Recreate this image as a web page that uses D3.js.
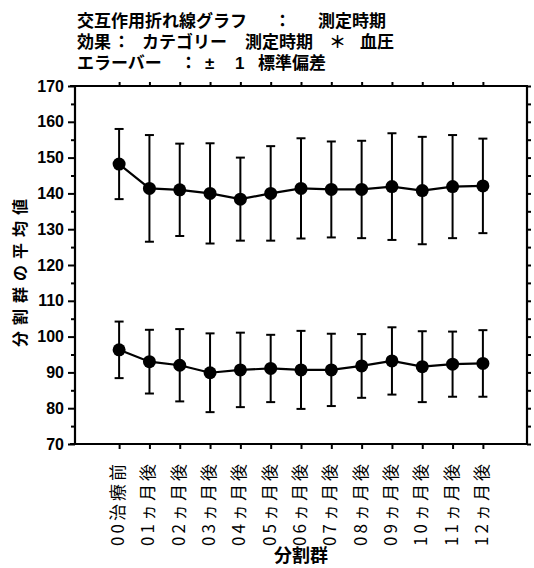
<!DOCTYPE html>
<html>
<head>
<meta charset="utf-8">
<script src="https://cdn.jsdelivr.net/npm/d3@7"></script>
<style>
  html, body { margin: 0; padding: 0; background: #fff; }
  svg { display: block; }
</style>
</head>
<body>
<svg id="chart" width="534" height="568"></svg>
<script>
// Measurement periods (x categories)
const categories = ["00治療前", "01ヵ月後", "02ヵ月後", "03ヵ月後", "04ヵ月後", "05ヵ月後",
  "06ヵ月後", "07ヵ月後", "08ヵ月後", "09ヵ月後", "10ヵ月後", "11ヵ月後", "12ヵ月後"];

// Systolic series: group means and standard deviations
const upperMean = [148.2, 141.4, 141.0, 140.0, 138.4, 140.0, 141.4, 141.1, 141.1, 141.9, 140.8, 141.9, 142.1];
const upperSD   = [9.8, 14.9, 12.9, 14.0, 11.6, 13.2, 14.0, 13.4, 13.6, 14.9, 15.0, 14.4, 13.2];

// Diastolic series: group means and standard deviations
const lowerMean = [96.3, 93.0, 92.0, 89.9, 90.7, 91.1, 90.7, 90.7, 91.8, 93.2, 91.6, 92.3, 92.5];
const lowerSD   = [7.9, 8.9, 10.1, 11.0, 10.4, 9.4, 10.9, 10.1, 8.9, 9.4, 9.9, 9.1, 9.3];

// Axis ticks
const yMajorTicks = [70, 80, 90, 100, 110, 120, 130, 140, 150, 160, 170];
const yMinorTicks = [75, 85, 95, 105, 115, 125, 135, 145, 155, 165];

// Title lines, each split into words with their left edge
const titleLines = [
  [["交互作用折れ線グラフ", 77], ["：", 274], ["測定時期", 318]],
  [["効果", 77], ["：", 113], ["カテゴリー", 142], ["測定時期", 245], ["＊", 329], ["血圧", 360]],
  [["エラーバー", 77], ["：", 180], ["±", 205], ["1", 235], ["標準偏差", 258]]
];

const svg = d3.select("#chart");
const plotL = 75, plotR = 527, plotT = 86, plotB = 444;

const x = d3.scalePoint().domain(categories).range([plotL, plotR]).padding(1.455);
const y = d3.scaleLinear().domain([70, 170]).range([plotB, plotT]);

const numFont = "'Liberation Sans', Arial, sans-serif";
const jpFont = "'Liberation Sans', 'Noto Sans CJK JP', sans-serif";

// Title block
titleLines.forEach((parts, i) => {
  svg.append("g").selectAll("text").data(parts).join("text")
    .attr("x", d => d[1])
    .attr("y", 27 + i * 21)
    .attr("font-family", jpFont)
    .attr("font-weight", "bold")
    .attr("font-size", 17)
    .attr("fill", "#000")
    .text(d => d[0]);
});

// Left axis: labelled major ticks, short minor ticks
const gLeft = svg.append("g").attr("transform", `translate(${plotL},0)`);
gLeft.call(d3.axisLeft(y).tickValues(yMajorTicks).tickSize(7).tickPadding(4).tickFormat(d3.format("d")));
gLeft.append("g").call(d3.axisLeft(y).tickValues(yMinorTicks).tickSize(4).tickFormat(""));
gLeft.selectAll("text")
  .attr("font-family", numFont)
  .attr("font-weight", "bold")
  .attr("font-size", 16)
  .attr("fill", "#000");

// Right axis: short outward ticks every 5
const gRight = svg.append("g").attr("transform", `translate(${plotR},0)`);
gRight.call(d3.axisRight(y).tickValues(yMajorTicks.concat(yMinorTicks)).tickSize(4).tickFormat(""));

// Top axis: short outward ticks at each category
const gTop = svg.append("g").attr("transform", `translate(0,${plotT})`);
gTop.call(d3.axisTop(x).tickSize(4).tickFormat(""));

// Bottom axis with vertical category labels
const gBottom = svg.append("g").attr("transform", `translate(0,${plotB})`);
gBottom.call(d3.axisBottom(x).tickSize(5));
gBottom.selectAll(".tick text")
  .attr("x", null).attr("y", null).attr("dy", null)
  .attr("transform", "translate(-3,17) rotate(-90)")
  .attr("text-anchor", "end")
  .attr("dominant-baseline", "central")
  .attr("font-family", "'Noto Sans CJK JP', sans-serif")
  .attr("font-size", 17)
  .attr("letter-spacing", 3)
  .attr("fill", "#000");

[gLeft, gRight, gTop, gBottom].forEach(g => {
  g.selectAll(".domain").remove();
  g.selectAll("line").attr("stroke", "#000").attr("stroke-width", 2);
});

// Frame
svg.append("g").attr("stroke", "#000").attr("stroke-width", 2.2).attr("fill", "none")
  .call(g => {
    g.append("line").attr("x1", plotL - 5).attr("x2", plotR + 1).attr("y1", plotT).attr("y2", plotT);
    g.append("line").attr("x1", plotL - 5).attr("x2", plotR + 1).attr("y1", plotB).attr("y2", plotB);
    g.append("line").attr("x1", plotL).attr("x2", plotL).attr("y1", plotT).attr("y2", plotB);
    g.append("line").attr("x1", plotR).attr("x2", plotR).attr("y1", plotT).attr("y2", plotB);
  });

// Axis titles
svg.append("text")
  .attr("transform", `translate(19,270) rotate(-90)`)
  .attr("text-anchor", "middle")
  .attr("dominant-baseline", "central")
  .attr("font-family", "'Noto Sans CJK JP', sans-serif")
  .attr("font-weight", "bold")
  .attr("font-size", 16)
  .attr("letter-spacing", 6)
  .attr("fill", "#000")
  .text("分割群の平均値");

svg.append("text")
  .attr("x", (plotL + plotR) / 2)
  .attr("y", 562)
  .attr("text-anchor", "middle")
  .attr("font-family", "'Noto Sans CJK JP', sans-serif")
  .attr("font-weight", "bold")
  .attr("font-size", 18)
  .attr("fill", "#000")
  .text("分割群");

// Series: line, ±1 SD error bars, filled markers
const series = [
  { mean: upperMean, sd: upperSD },
  { mean: lowerMean, sd: lowerSD }
];

const line = d3.line().x((d, i) => x(categories[i])).y(d => y(d));
const capHalf = 4.5;

series.forEach(s => {
  const g = svg.append("g");
  const rows = categories.map((c, i) => ({ c, m: s.mean[i], sd: s.sd[i] }));

  const eb = g.selectAll(".eb").data(rows).join("g").attr("stroke", "#000").attr("stroke-width", 2);
  eb.append("line")
    .attr("x1", d => x(d.c)).attr("x2", d => x(d.c))
    .attr("y1", d => y(d.m + d.sd)).attr("y2", d => y(d.m - d.sd));
  eb.append("line")
    .attr("x1", d => x(d.c) - capHalf).attr("x2", d => x(d.c) + capHalf)
    .attr("y1", d => y(d.m + d.sd)).attr("y2", d => y(d.m + d.sd));
  eb.append("line")
    .attr("x1", d => x(d.c) - capHalf).attr("x2", d => x(d.c) + capHalf)
    .attr("y1", d => y(d.m - d.sd)).attr("y2", d => y(d.m - d.sd));

  g.append("path")
    .attr("d", line(s.mean))
    .attr("fill", "none")
    .attr("stroke", "#000")
    .attr("stroke-width", 2.2);

  g.selectAll("circle").data(rows).join("circle")
    .attr("cx", d => x(d.c))
    .attr("cy", d => y(d.m))
    .attr("r", 6.5)
    .attr("fill", "#000");
});
</script>
</body>
</html>
